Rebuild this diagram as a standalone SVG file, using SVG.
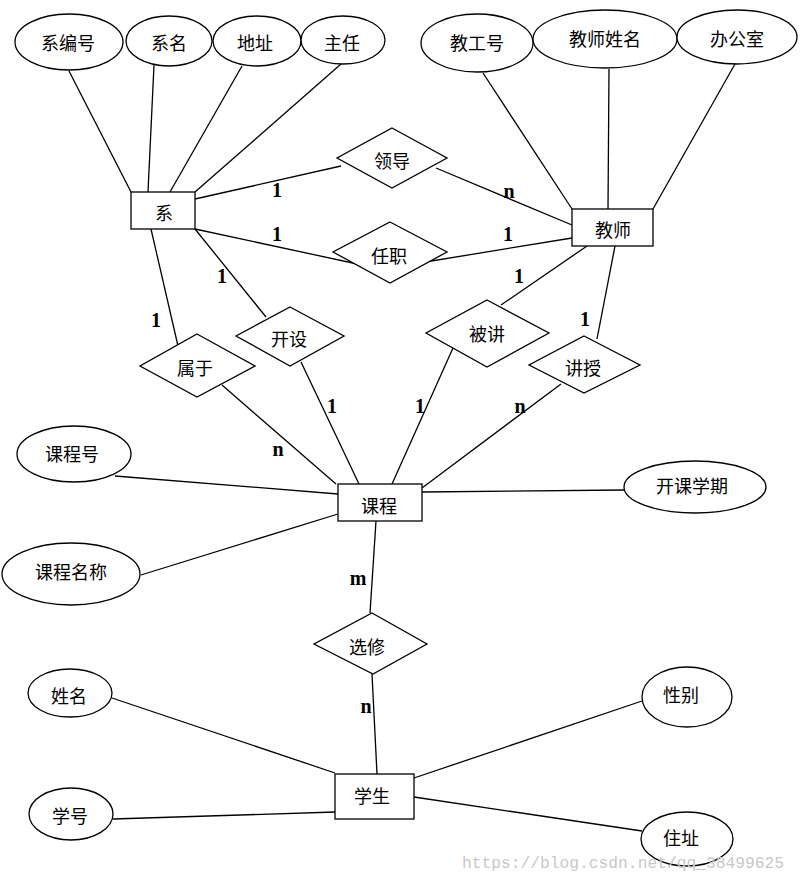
<svg xmlns="http://www.w3.org/2000/svg" width="803" height="878" viewBox="0 0 803 878">
<style>
.s{fill:#fff;stroke:#000;stroke-width:1.3}
.t{font-family:"Noto Sans CJK SC","Liberation Sans",sans-serif;font-size:18px;text-anchor:middle;dominant-baseline:central;fill:#000}
.c line{stroke:#000;stroke-width:1.3}
.l{font-family:"Liberation Serif",serif;font-weight:bold;font-size:20px;text-anchor:middle;dominant-baseline:central;fill:#000}
.w{font-family:"Liberation Mono",monospace;font-size:16px;fill:#c8c8c8}
</style>
<rect width="803" height="878" fill="#fff"/>
<g class="c" id="connectors">
<line x1="69" y1="71" x2="131" y2="192"/>
<line x1="154" y1="65" x2="148" y2="192"/>
<line x1="242" y1="66" x2="170" y2="192"/>
<line x1="341" y1="64" x2="195" y2="192"/>
<line x1="483" y1="73" x2="572" y2="209"/>
<line x1="609" y1="69" x2="608" y2="209"/>
<line x1="735" y1="64" x2="653" y2="209"/>
<line x1="195" y1="199" x2="341" y2="166"/>
<line x1="436" y1="168" x2="572" y2="225"/>
<line x1="195" y1="229" x2="362" y2="265"/>
<line x1="572" y1="238" x2="413" y2="264"/>
<line x1="151" y1="229" x2="178" y2="346"/>
<line x1="195" y1="229" x2="266" y2="317"/>
<line x1="587" y1="246" x2="501" y2="305"/>
<line x1="615" y1="246" x2="597" y2="339"/>
<line x1="222" y1="385" x2="336" y2="484"/>
<line x1="301" y1="362" x2="359" y2="484"/>
<line x1="453" y1="348" x2="392" y2="484"/>
<line x1="561" y1="384" x2="422" y2="488"/>
<line x1="115" y1="476" x2="338" y2="494"/>
<line x1="141" y1="575" x2="338" y2="514"/>
<line x1="422" y1="492" x2="624" y2="490"/>
<line x1="376" y1="521" x2="370" y2="613"/>
<line x1="372" y1="674" x2="377" y2="774"/>
<line x1="112" y1="698" x2="335" y2="773"/>
<line x1="113" y1="819" x2="335" y2="812"/>
<line x1="642" y1="701" x2="414" y2="778"/>
<line x1="642" y1="831" x2="414" y2="797"/>
</g>
<g id="a-xibianhao"><ellipse class="s" cx="69" cy="42" rx="54" ry="28"/><text class="t" x="68" y="42">系编号</text></g>
<g id="a-ximing"><ellipse class="s" cx="169" cy="41" rx="43" ry="25"/><text class="t" x="169" y="42">系名</text></g>
<g id="a-dizhi"><ellipse class="s" cx="257" cy="41" rx="44" ry="25"/><text class="t" x="255" y="42">地址</text></g>
<g id="a-zhuren"><ellipse class="s" cx="343" cy="40" rx="42" ry="24"/><text class="t" x="342" y="42">主任</text></g>
<g id="a-jgh"><ellipse class="s" cx="477" cy="43" rx="56" ry="29"/><text class="t" x="477" y="42">教工号</text></g>
<g id="a-jsxm"><ellipse class="s" cx="605" cy="39" rx="72" ry="29"/><text class="t" x="605" y="38">教师姓名</text></g>
<g id="a-bgs"><ellipse class="s" cx="737" cy="37" rx="60" ry="27"/><text class="t" x="737" y="38">办公室</text></g>
<g id="e-xi"><rect class="s" x="131" y="192" width="64" height="37"/><text class="t" x="164" y="212">系</text></g>
<g id="e-jiaoshi"><rect class="s" x="572" y="209" width="81" height="37"/><text class="t" x="613" y="229">教师</text></g>
<g id="r-lingdao"><polygon class="s" points="392,128 447,158 392,188 337,158"/><text class="t" x="392" y="160">领导</text></g>
<g id="r-renzhi"><polygon class="s" points="390,222 447,252 390,283 333,252"/><text class="t" x="389" y="255">任职</text></g>
<g id="r-kaishe"><polygon class="s" points="290,307 344,336 290,366 236,336"/><text class="t" x="289" y="338">开设</text></g>
<g id="r-shuyu"><polygon class="s" points="197,334 255,366 197,397 140,366"/><text class="t" x="195" y="367">属于</text></g>
<g id="r-beijiang"><polygon class="s" points="487,300 549,333 487,367 426,333"/><text class="t" x="487" y="333">被讲</text></g>
<g id="r-jiangshou"><polygon class="s" points="584,336 640,365 584,393 529,365"/><text class="t" x="583" y="367">讲授</text></g>
<g id="a-kch"><ellipse class="s" cx="74" cy="454" rx="57" ry="28"/><text class="t" x="72" y="453">课程号</text></g>
<g id="a-kcmc"><ellipse class="s" cx="71" cy="574" rx="69" ry="31"/><text class="t" x="71" y="571">课程名称</text></g>
<g id="a-kkxq"><ellipse class="s" cx="695" cy="487" rx="71" ry="26"/><text class="t" x="692" y="485">开课学期</text></g>
<g id="e-kecheng"><rect class="s" x="338" y="484" width="84" height="37"/><text class="t" x="379" y="505">课程</text></g>
<g id="r-xuanxiu"><polygon class="s" points="372,613 427,644 373,674 314,644"/><text class="t" x="367" y="646">选修</text></g>
<g id="e-xuesheng"><rect class="s" x="335" y="774" width="79" height="45"/><text class="t" x="372" y="795">学生</text></g>
<g id="a-xingming"><ellipse class="s" cx="70" cy="693" rx="42" ry="24"/><text class="t" x="69" y="695">姓名</text></g>
<g id="a-xuehao"><ellipse class="s" cx="71" cy="814" rx="42" ry="26"/><text class="t" x="70" y="815">学号</text></g>
<g id="a-xingbie"><ellipse class="s" cx="687" cy="697" rx="45" ry="30"/><text class="t" x="681" y="694">性别</text></g>
<g id="a-zhuzhi"><ellipse class="s" cx="687" cy="839" rx="46" ry="27"/><text class="t" x="681" y="837">住址</text></g>
<g id="labels">
<text class="l" x="277" y="190">1</text>
<text class="l" x="509" y="191">n</text>
<text class="l" x="277" y="234">1</text>
<text class="l" x="508" y="234">1</text>
<text class="l" x="222" y="276">1</text>
<text class="l" x="156" y="320">1</text>
<text class="l" x="519" y="276">1</text>
<text class="l" x="585" y="319">1</text>
<text class="l" x="278" y="449">n</text>
<text class="l" x="332" y="406">1</text>
<text class="l" x="420" y="406">1</text>
<text class="l" x="520" y="406">n</text>
<text class="l" x="358" y="578">m</text>
<text class="l" x="366" y="706">n</text>
</g>
<text class="w" x="462" y="868" textLength="322" lengthAdjust="spacingAndGlyphs">https://blog.csdn.net/qq_38499625</text>
</svg>
